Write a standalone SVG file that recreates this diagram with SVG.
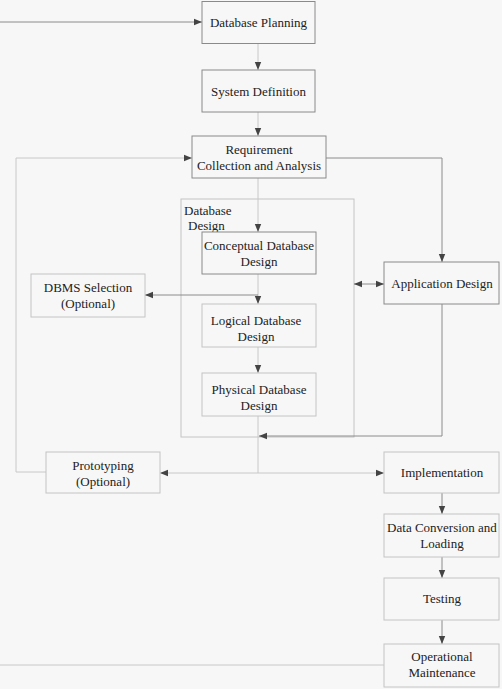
<svg xmlns="http://www.w3.org/2000/svg" width="502" height="689" viewBox="0 0 502 689" font-family="Liberation Serif, Times New Roman, Tinos, DejaVu Serif, serif">
<style>
text{font-size:13px;fill:#222;text-anchor:middle}
.b{fill:#f7f7f7;stroke:#8a8a8a;stroke-width:1}
.l{fill:#f7f7f7;stroke:#c4c4c4;stroke-width:1}
.c{fill:none;stroke:#8c8c8c;stroke-width:1}
.cl{fill:none;stroke:#c8c8c8;stroke-width:1}
</style>
<defs>
<marker id="a" viewBox="0 0 8 8" refX="8" refY="4" markerWidth="8" markerHeight="8" orient="auto" markerUnits="userSpaceOnUse"><path d="M0,0.8 L8,4 L0,7.2 Z" fill="#444"/></marker>
<marker id="s" viewBox="0 0 8 8" refX="0" refY="4" markerWidth="8" markerHeight="8" orient="auto" markerUnits="userSpaceOnUse"><path d="M8,0.8 L0,4 L8,7.2 Z" fill="#444"/></marker>
</defs>
<rect width="502" height="689" fill="#f7f7f7"/>
<g id="dbdesign">
<rect x="181" y="199" width="173" height="238" class="l"/>
<text x="184" y="215" font-family="Liberation Serif" style="text-anchor:start">Database</text>
<text x="188" y="230" font-family="Liberation Serif" style="text-anchor:start">Design</text>
</g>
<g id="connectors">
<path d="M0,22 H202" class="c" marker-end="url(#a)"/>
<path d="M258,43 V70" class="cl" marker-end="url(#a)"/>
<path d="M258,112 V136" class="cl" marker-end="url(#a)"/>
<path d="M258,178 V232" class="cl" marker-end="url(#a)"/>
<path d="M258,274 V304" class="cl" marker-end="url(#a)"/>
<path d="M258,347 V373" class="cl" marker-end="url(#a)"/>
<path d="M258,416 V473" class="cl"/>
<path d="M16,472 V158 H192" class="cl" marker-end="url(#a)"/>
<path d="M46,472 H16" class="cl"/>
<path d="M326,158 H442 V262" class="c" marker-end="url(#a)"/>
<path d="M258,295 H145" class="c" marker-end="url(#a)"/>
<path d="M354,284 H384" class="c" marker-start="url(#s)" marker-end="url(#a)"/>
<path d="M442,304 V436 H259" class="c" marker-end="url(#a)"/>
<path d="M160,473 H384" class="cl" marker-start="url(#s)" marker-end="url(#a)"/>
<path d="M442,493 V514" class="c" marker-end="url(#a)"/>
<path d="M442,557 V578" class="c" marker-end="url(#a)"/>
<path d="M442,620 V644" class="c" marker-end="url(#a)"/>
<path d="M0,665 H384" class="cl"/>
</g>
<g id="planning"><rect x="202" y="1.5" width="113" height="42" class="b"/><text x="258.5" y="27">Database Planning</text></g>
<g id="sysdef"><rect x="202" y="70" width="113" height="42" class="b"/><text x="258.5" y="96">System Definition</text></g>
<g id="requirement"><rect x="192" y="136" width="134" height="42" class="b"/><text x="259" y="154">Requirement</text><text x="259" y="170">Collection and Analysis</text></g>
<g id="conceptual"><rect x="202" y="232" width="114" height="42" class="b"/><text x="259" y="250">Conceptual Database</text><text x="259" y="266">Design</text></g>
<g id="logical"><rect x="202" y="304" width="114" height="43" class="l"/><text x="256" y="325">Logical Database</text><text x="256" y="341">Design</text></g>
<g id="physical"><rect x="202" y="373" width="114" height="43" class="l"/><text x="259" y="394">Physical Database</text><text x="259" y="410">Design</text></g>
<g id="dbms"><rect x="31" y="274" width="114" height="43" class="l"/><text x="88" y="292">DBMS Selection</text><text x="88" y="308">(Optional)</text></g>
<g id="appdesign"><rect x="384" y="262" width="115" height="42" class="b"/><text x="442" y="288">Application Design</text></g>
<g id="prototyping"><rect x="46" y="452" width="114" height="41" class="l"/><text x="103" y="470">Prototyping</text><text x="103" y="486">(Optional)</text></g>
<g id="implementation"><rect x="384" y="452" width="115" height="41" class="l"/><text x="442" y="477">Implementation</text></g>
<g id="conversion"><rect x="384" y="514" width="115" height="43" class="l"/><text x="442" y="532">Data Conversion and</text><text x="442" y="548">Loading</text></g>
<g id="testing"><rect x="384" y="578" width="115" height="42" class="l"/><text x="442" y="603">Testing</text></g>
<g id="maintenance"><rect x="384" y="644" width="115" height="43" class="l"/><text x="442" y="661">Operational</text><text x="442" y="677">Maintenance</text></g>
</svg>
